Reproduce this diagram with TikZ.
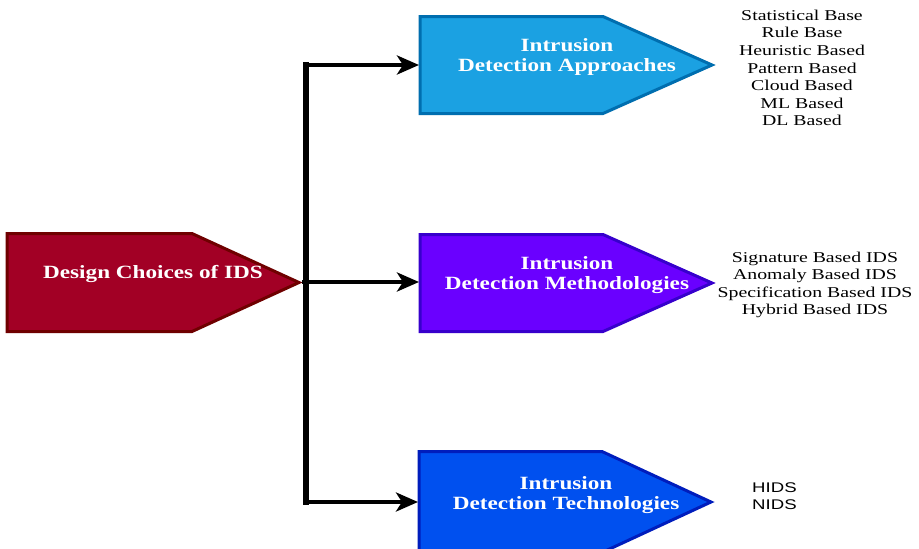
\documentclass[tikz,border=0pt]{standalone}
\usepackage{fontspec}
\setmainfont{Liberation Serif}
\newfontfamily\boxfont[FakeStretch=1.24]{Liberation Serif}
\newfontfamily\listfont[FakeStretch=1.32]{Liberation Serif}
\newfontfamily\techfont[FakeStretch=1.33]{Liberation Sans}
\usetikzlibrary{arrows.meta}

\definecolor{crimsonFill}{HTML}{A20025}
\definecolor{crimsonLine}{HTML}{6F0000}
\definecolor{cyanFill}{HTML}{1BA1E2}
\definecolor{cyanLine}{HTML}{006EAF}
\definecolor{violetFill}{HTML}{6A00FF}
\definecolor{violetLine}{HTML}{3700CC}
\definecolor{cobaltFill}{HTML}{0050EF}
\definecolor{cobaltLine}{HTML}{001DBC}

\begin{document}
\begin{tikzpicture}[x=1pt,y=-1pt,
  pentagon/.style={line width=3pt,line join=miter},
  boxtext/.style={text=white,inner sep=0pt,align=center,
    font=\boxfont\bfseries\fontsize{18.7}{20}\selectfont},
  listtext/.style={inner sep=0pt,align=center,
    font=\listfont\fontsize{15}{17.6}\selectfont},
  techtext/.style={inner sep=0pt,align=left,
    font=\techfont\fontsize{14}{17}\selectfont},
  trunk/.style={line width=6pt,line cap=rect},
  link/.style={line width=4pt,-{Stealth[length=22pt,width=19pt,inset=6pt]}}]

\useasboundingbox (0,0) rectangle (919,549);
\fill[white] (0,0) rectangle (919,549);

% arrow-shaped boxes
\draw[pentagon,fill=crimsonFill,draw=crimsonLine]
  (7,233.5) -- (192,233.5) -- (299,282.5) -- (192,331.5) -- (7,331.5) -- cycle;
\draw[pentagon,fill=cyanFill,draw=cyanLine]
  (420,16.5) -- (603,16.5) -- (712,65) -- (603,113.5) -- (420,113.5) -- cycle;
\draw[pentagon,fill=violetFill,draw=violetLine]
  (420,234.5) -- (603,234.5) -- (712,283) -- (603,331.5) -- (420,331.5) -- cycle;
\draw[pentagon,fill=cobaltFill,draw=cobaltLine]
  (419,451.5) -- (602,451.5) -- (711,502) -- (602,552.5) -- (419,552.5) -- cycle;

% box labels
\node[boxtext] (choices) at (153,274) {Design Choices of IDS};
\node[boxtext] (approaches) at (567,57.4) {Intrusion\\Detection Approaches};
\node[boxtext] (methodologies) at (567,275.4) {Intrusion\\Detection Methodologies};
\node[boxtext] (technologies) at (566,494.6) {Intrusion\\Detection Technologies};

% item lists
\node[listtext] (approachList) at (802,68) {Statistical Base\\Rule Base\\Heuristic Based\\Pattern Based\\Cloud Based\\ML Based\\DL Based};
\node[listtext] (methodList) at (815,285) {Signature Based IDS\\Anomaly Based IDS\\Specification Based IDS\\Hybrid Based IDS};
\node[techtext,anchor=west] (techList) at (752,496.5) {HIDS\\NIDS};

% connector end points
\coordinate (choicesTip) at (302,282);
\coordinate (trunkTop) at (306,65);
\coordinate (trunkBot) at (306,502);
\coordinate (approachesIn) at (419,65);
\coordinate (methodologiesIn) at (419,282);
\coordinate (technologiesIn) at (418,502);

% connectors
\draw[trunk] (trunkTop) -- (trunkBot);
\draw[link] (trunkTop) -- (approachesIn);
\draw[link] (choicesTip) -- (methodologiesIn);
\draw[link] (trunkBot) -- (technologiesIn);
\end{tikzpicture}
\end{document}
